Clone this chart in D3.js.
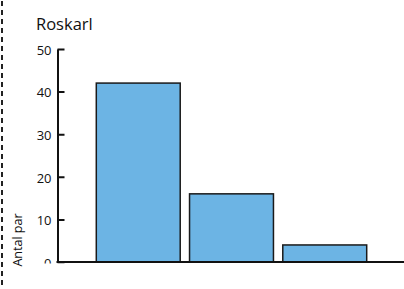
<!DOCTYPE html>
<html>
<head>
<meta charset="utf-8">
<script src="https://cdn.jsdelivr.net/npm/d3@7"></script>
<style>
  body { margin: 0; background: #fff; }
  text { font-family: "Open Sans", "Noto Sans", sans-serif; }
</style>
</head>
<body>
<div id="chart"></div>
<script>
  ancho = 404;
  alto = 289;

  titulo = "Roskarl";
  etiquetaY = "Antal par";
  categorias = ["1", "2", "3"];
  valores = [42, 16, 4];
  ticksY = [0, 10, 20, 30, 40, 50];

  var svg = d3.select("#chart")
    .append("svg")
    .attr("width", ancho)
    .attr("height", alto);

  // borde discontinuo a la izquierda
  svg.append("line")
    .attr("x1", 2).attr("x2", 2)
    .attr("y1", 0).attr("y2", alto)
    .attr("stroke", "#222")
    .attr("stroke-width", 2)
    .attr("stroke-dasharray", "5,4")
    .attr("stroke-dashoffset", -1);

  svg.append("text")
    .attr("x", 36)
    .attr("y", 30)
    .attr("font-size", "16.5px")
    .attr("fill", "#111")
    .text(titulo);

  svg.append("clipPath")
    .attr("id", "recorte")
    .append("rect")
    .attr("x", 0).attr("y", 0)
    .attr("width", ancho).attr("height", 263.5);

  var g = svg.append("g").attr("clip-path", "url(#recorte)");

  var escalaY = d3.scaleLinear()
    .domain([0, 50])
    .range([262, 49]);

  var escalaX = d3.scaleBand()
    .domain(categorias)
    .range([59, 404])
    .paddingInner(0.1)
    .paddingOuter(0.4);

  g.selectAll("rect.barra")
    .data(valores)
    .enter()
    .append("rect")
    .attr("class", "barra")
    .attr("x", function (d, i) { return escalaX(categorias[i]); })
    .attr("y", function (d) { return escalaY(d); })
    .attr("width", escalaX.bandwidth())
    .attr("height", function (d) { return escalaY(0) - escalaY(d); })
    .attr("fill", "#6cb4e4")
    .attr("stroke", "#1a1a1a")
    .attr("stroke-width", 1.5);

  var ejeY = g.append("g")
    .attr("transform", "translate(57.5,0)")
    .call(d3.axisRight(escalaY).tickValues(ticksY).tickSize(7).tickSizeOuter(0));

  ejeY.select(".domain").attr("stroke", "#111").attr("stroke-width", 2);
  ejeY.selectAll(".tick line").attr("stroke", "#111").attr("stroke-width", 2);
  ejeY.selectAll(".tick text")
    .attr("x", -6)
    .attr("dy", "0.4em")
    .attr("text-anchor", "end")
    .attr("font-size", "13px")
    .attr("fill", "#111")
    .style("font-family", "'Open Sans', 'Noto Sans', sans-serif");

  g.append("line")
    .attr("x1", 56.5).attr("x2", ancho)
    .attr("y1", escalaY(0)).attr("y2", escalaY(0))
    .attr("stroke", "#111")
    .attr("stroke-width", 2);

  svg.append("text")
    .attr("transform", "translate(22,240) rotate(-90)")
    .attr("text-anchor", "middle")
    .attr("font-size", "12.5px")
    .attr("fill", "#111")
    .text(etiquetaY);
</script>
</body>
</html>
